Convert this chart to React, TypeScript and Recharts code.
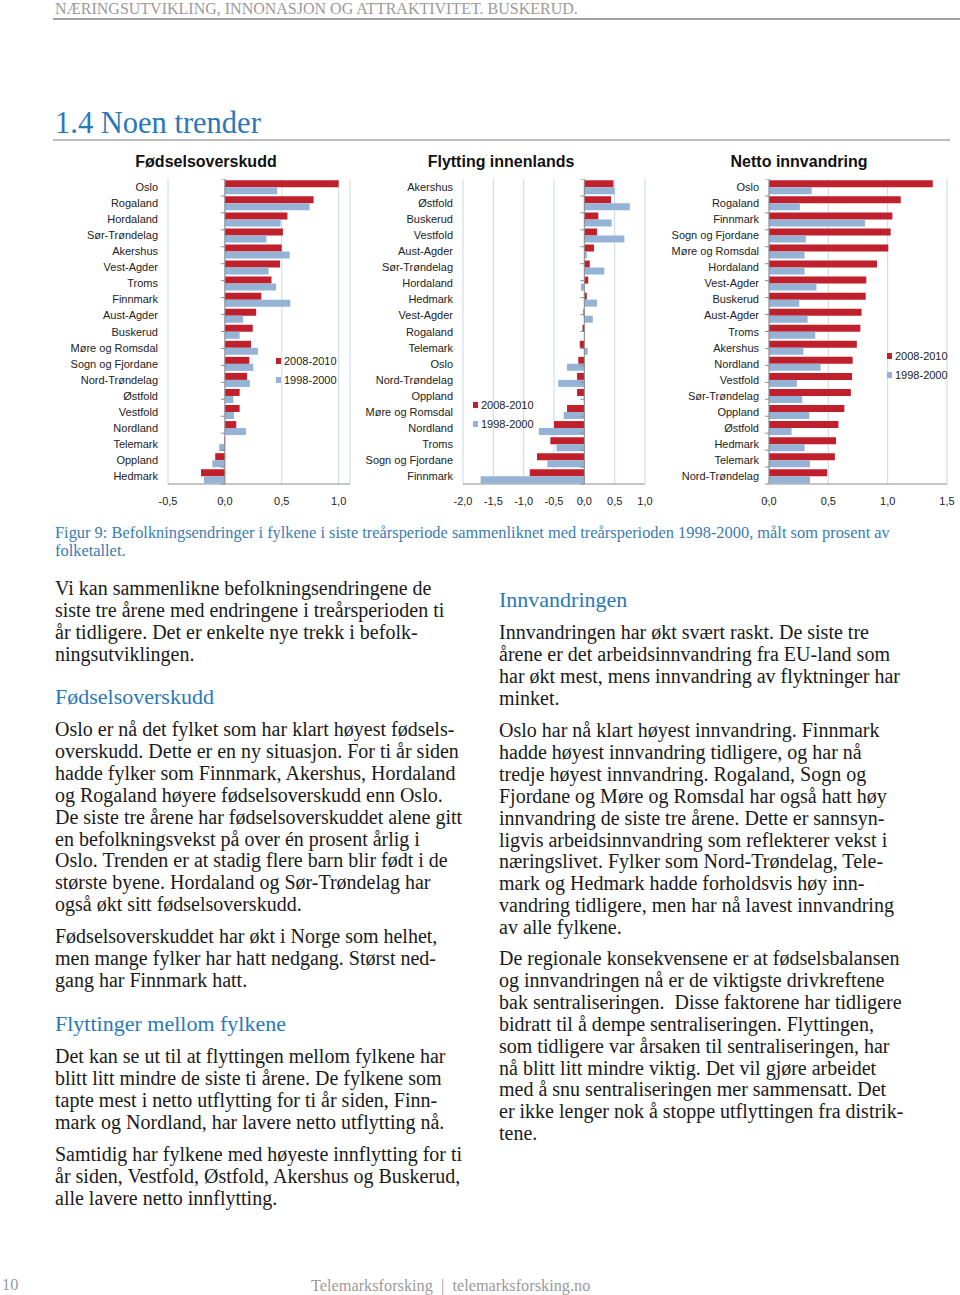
import React from 'react';
import { BarChart, Bar, XAxis, YAxis, CartesianGrid, ReferenceLine } from 'recharts';

const RED = '#c0202c';
const BLUE = '#95b3d7';
const GRID = '#c9d8ec';
const AXIS = '#8c8c8c';
const HEAD_BLUE = '#2a78b8';

const seriesNames = ['2008-2010', '1998-2000'];

// Fødselsoverskudd
const birthCounties = ['Oslo', 'Rogaland', 'Hordaland', 'Sør-Trøndelag', 'Akershus', 'Vest-Agder', 'Troms', 'Finnmark', 'Aust-Agder', 'Buskerud', 'Møre og Romsdal', 'Sogn og Fjordane', 'Nord-Trøndelag', 'Østfold', 'Vestfold', 'Nordland', 'Telemark', 'Oppland', 'Hedmark'];
const birthNew = [1.0, 0.78, 0.55, 0.51, 0.5, 0.485, 0.41, 0.32, 0.275, 0.245, 0.23, 0.215, 0.195, 0.13, 0.13, 0.1, -0.005, -0.085, -0.21];
const birthOld = [0.46, 0.745, 0.49, 0.365, 0.57, 0.385, 0.45, 0.575, 0.16, 0.13, 0.29, 0.25, 0.22, 0.075, 0.08, 0.185, -0.05, -0.11, -0.185];
const birthTicks = [-0.5, 0, 0.5, 1.0];

// Flytting innenlands
const moveCounties = ['Akershus', 'Østfold', 'Buskerud', 'Vestfold', 'Aust-Agder', 'Sør-Trøndelag', 'Hordaland', 'Hedmark', 'Vest-Agder', 'Rogaland', 'Telemark', 'Oslo', 'Nord-Trøndelag', 'Oppland', 'Møre og Romsdal', 'Nordland', 'Troms', 'Sogn og Fjordane', 'Finnmark'];
const moveNew = [0.48, 0.44, 0.23, 0.21, 0.16, 0.09, 0.065, 0.04, -0.015, -0.03, -0.075, -0.1, -0.12, -0.12, -0.285, -0.5, -0.56, -0.78, -0.9];
const moveOld = [0.5, 0.75, 0.45, 0.66, 0.04, 0.33, -0.055, 0.21, 0.14, 0.005, 0.055, -0.285, -0.43, -0.01, -0.34, -0.75, -0.46, -0.61, -1.71];
const moveTicks = [-2.0, -1.5, -1.0, -0.5, 0, 0.5, 1.0];

// Netto innvandring
const immCounties = ['Oslo', 'Rogaland', 'Finnmark', 'Sogn og Fjordane', 'Møre og Romsdal', 'Hordaland', 'Vest-Agder', 'Buskerud', 'Aust-Agder', 'Troms', 'Akershus', 'Nordland', 'Vestfold', 'Sør-Trøndelag', 'Oppland', 'Østfold', 'Hedmark', 'Telemark', 'Nord-Trøndelag'];
const immNew = [1.38, 1.11, 1.04, 1.025, 1.005, 0.91, 0.82, 0.815, 0.78, 0.77, 0.74, 0.705, 0.7, 0.69, 0.635, 0.585, 0.565, 0.555, 0.49];
const immOld = [0.36, 0.26, 0.81, 0.31, 0.3, 0.3, 0.4, 0.255, 0.325, 0.39, 0.29, 0.435, 0.235, 0.28, 0.34, 0.19, 0.3, 0.345, 0.345];
const immTicks = [0, 0.5, 1.0, 1.5];

const build = (names: string[], a: number[], b: number[]) =>
  names.map((name, i) => ({ name, a: a[i], b: b[i] }));

const fmt = (v: number) => v.toFixed(1).replace('.', ',');

const SANS = '"Liberation Sans", Arial, sans-serif';
const SERIF = '"Liberation Serif", "Times New Roman", serif';

type PanelProps = {
  title: string;
  titleCenter: number;
  data: { name: string; a: number; b: number }[];
  domain: [number, number];
  ticks: number[];
  plotLeft: number;
  plotWidth: number;
  legendLeft: number;
  legendTop: number;
};

const YW = 113;
const PLOT_TOP = 179;
const PLOT_H = 305;
const XH = 28;
const RM = 14;
const TICK_PX = 4;

function YTick(props: any) {
  const { x, y, payload } = props;
  return (
    <text x={x} y={y} dy={4} textAnchor="end" fontSize={11} fill="#222" fontFamily={SANS}>
      {payload.value}
    </text>
  );
}

function LegendBox({ left, top }: { left: number; top: number }) {
  return (
    <div style={{ position: 'absolute', left, top, fontFamily: SANS, fontSize: 11, color: '#222', lineHeight: '18.5px' }}>
      {seriesNames.map((n, i) => (
        <div key={n} style={{ display: 'flex', alignItems: 'center', whiteSpace: 'nowrap' }}>
          <span style={{ display: 'inline-block', width: 5, height: 6, background: i === 0 ? RED : BLUE, marginRight: 3 }} />
          {n}
        </div>
      ))}
    </div>
  );
}

function Panel(p: PanelProps) {
  const width = YW + p.plotWidth + RM;
  const left = p.plotLeft - YW;
  const height = PLOT_H + XH;
  const n = p.data.length;
  const bounds = Array.from({ length: n + 1 }, (_, i) => i);
  const tickLen = (TICK_PX * (p.domain[1] - p.domain[0])) / p.plotWidth;
  return (
    <>
      <div style={{ position: 'absolute', left: p.titleCenter - 120, width: 240, top: 153, textAlign: 'center', fontFamily: SANS, fontWeight: 'bold', fontSize: 16, color: '#111' }}>
        {p.title}
      </div>
      <div style={{ position: 'absolute', left, top: PLOT_TOP, width, height }}>
        <BarChart width={width} height={height} data={p.data} layout="vertical" margin={{ top: 0, right: RM, bottom: 0, left: 0 }} barCategoryGap="8%" barGap={0}>
          <CartesianGrid horizontal={false} stroke={GRID} />
          <XAxis type="number" domain={p.domain} ticks={p.ticks} tickFormatter={fmt} allowDataOverflow axisLine={{ stroke: AXIS }} tickLine={false} tickSize={4} tickMargin={9} height={XH} tick={{ fontSize: 11, fill: '#222', fontFamily: SANS }} />
          <YAxis type="category" dataKey="name" width={YW} interval={0} axisLine={false} tickLine={false} tickSize={0} tickMargin={10} tick={<YTick />} />
          <YAxis yAxisId="bounds" type="number" domain={[0, n]} hide />
          <ReferenceLine x={0} stroke={AXIS} />
          {bounds.map((b) => (
            <ReferenceLine key={b} yAxisId="bounds" ifOverflow="visible" stroke={AXIS} segment={[{ x: -tickLen, y: b }, { x: 0, y: b }]} />
          ))}
          <Bar dataKey="a" name={seriesNames[0]} fill={RED} isAnimationActive={false} />
          <Bar dataKey="b" name={seriesNames[1]} fill={BLUE} isAnimationActive={false} />
        </BarChart>
      </div>
      <LegendBox left={p.legendLeft} top={p.legendTop} />
    </>
  );
}

const captionLines = [
  'Figur 9: Befolkningsendringer i fylkene i siste treårsperiode sammenliknet med treårsperioden 1998-2000, målt som prosent av',
  'folketallet.',
];

const leftP1 = ['Vi kan sammenlikne befolkningsendringene de', 'siste tre årene med endringene i treårsperioden ti', 'år tidligere. Det er enkelte nye trekk i befolk-', 'ningsutviklingen.'];
const leftP2 = ['Oslo er nå det fylket som har klart høyest fødsels-', 'overskudd. Dette er en ny situasjon. For ti år siden', 'hadde fylker som Finnmark, Akershus, Hordaland', 'og Rogaland høyere fødselsoverskudd enn Oslo.', 'De siste tre årene har fødselsoverskuddet alene gitt', 'en befolkningsvekst på over én prosent årlig i', 'Oslo. Trenden er at stadig flere barn blir født i de', 'største byene. Hordaland og Sør-Trøndelag har', 'også økt sitt fødselsoverskudd.'];
const leftP3 = ['Fødselsoverskuddet har økt i Norge som helhet,', 'men mange fylker har hatt nedgang. Størst ned-', 'gang har Finnmark hatt.'];
const leftP4 = ['Det kan se ut til at flyttingen mellom fylkene har', 'blitt litt mindre de siste ti årene. De fylkene som', 'tapte mest i netto utflytting for ti år siden, Finn-', 'mark og Nordland, har lavere netto utflytting nå.'];
const leftP5 = ['Samtidig har fylkene med høyeste innflytting for ti', 'år siden, Vestfold, Østfold, Akershus og Buskerud,', 'alle lavere netto innflytting.'];
const rightP1 = ['Innvandringen har økt svært raskt. De siste tre', 'årene er det arbeidsinnvandring fra EU-land som', 'har økt mest, mens innvandring av flyktninger har', 'minket.'];
const rightP2 = ['Oslo har nå klart høyest innvandring. Finnmark', 'hadde høyest innvandring tidligere, og har nå', 'tredje høyest innvandring. Rogaland, Sogn og', 'Fjordane og Møre og Romsdal har også hatt høy', 'innvandring de siste tre årene. Dette er sannsyn-', 'ligvis arbeidsinnvandring som reflekterer vekst i', 'næringslivet. Fylker som Nord-Trøndelag, Tele-', 'mark og Hedmark hadde forholdsvis høy inn-', 'vandring tidligere, men har nå lavest innvandring', 'av alle fylkene.'];
const rightP3 = ['De regionale konsekvensene er at fødselsbalansen', 'og innvandringen nå er de viktigste drivkreftene', 'bak sentraliseringen.  Disse faktorene har tidligere', 'bidratt til å dempe sentraliseringen. Flyttingen,', 'som tidligere var årsaken til sentraliseringen, har', 'nå blitt litt mindre viktig. Det vil gjøre arbeidet', 'med å snu sentraliseringen mer sammensatt. Det', 'er ikke lenger nok å stoppe utflyttingen fra distrik-', 'tene.'];

const LH = 21.9;
const BODY = 20;

function Para({ lines, left, centerY, size = BODY, color = '#1a1a1a', lh = LH }: { lines: string[]; left: number; centerY: number; size?: number; color?: string; lh?: number }) {
  return (
    <div style={{ position: 'absolute', left, top: centerY - lh / 2, fontFamily: SERIF, fontSize: size, lineHeight: `${lh}px`, color, whiteSpace: 'pre' }}>
      {lines.map((l, i) => (
        <div key={i}>{l}</div>
      ))}
    </div>
  );
}

export default function App() {
  return (
    <div style={{ position: 'absolute', left: 0, top: 0, width: 960, height: 1295, background: '#fff', overflow: 'hidden' }}>
      <Para lines={['NÆRINGSUTVIKLING, INNONASJON OG ATTRAKTIVITET. BUSKERUD.']} left={55} centerY={9} size={16} color="#9a9a9a" lh={18} />
      <div style={{ position: 'absolute', left: 53, top: 18, width: 907, height: 2, background: '#a0a0a0' }} />
      <Para lines={['1.4 Noen trender']} left={55} centerY={123} size={30.5} color={HEAD_BLUE} lh={34} />
      <div style={{ position: 'absolute', left: 53, top: 139, width: 897, height: 1.5, background: '#bdbdbd' }} />

      <Panel title="Fødselsoverskudd" titleCenter={206} data={build(birthCounties, birthNew, birthOld)} domain={[-0.5, 1.1]} ticks={birthTicks} plotLeft={168} plotWidth={182} legendLeft={276} legendTop={352} />
      <Panel title="Flytting innenlands" titleCenter={501} data={build(moveCounties, moveNew, moveOld)} domain={[-2, 1]} ticks={moveTicks} plotLeft={463} plotWidth={182} legendLeft={473} legendTop={396} />
      <Panel title="Netto innvandring" titleCenter={799} data={build(immCounties, immNew, immOld)} domain={[0, 1.5]} ticks={immTicks} plotLeft={769} plotWidth={178} legendLeft={887} legendTop={347} />

      <Para lines={captionLines} left={55} centerY={533} size={16.4} color="#3a7bb3" lh={18.5} />

      <Para lines={leftP1} left={55} centerY={589} />
      <Para lines={['Fødselsoverskudd']} left={55} centerY={697} size={22} color={HEAD_BLUE} lh={26} />
      <Para lines={leftP2} left={55} centerY={730} />
      <Para lines={leftP3} left={55} centerY={937} />
      <Para lines={['Flyttinger mellom fylkene']} left={55} centerY={1024} size={22} color={HEAD_BLUE} lh={26} />
      <Para lines={leftP4} left={55} centerY={1057} />
      <Para lines={leftP5} left={55} centerY={1155} />

      <Para lines={['Innvandringen']} left={499} centerY={600} size={22} color={HEAD_BLUE} lh={26} />
      <Para lines={rightP1} left={499} centerY={633} />
      <Para lines={rightP2} left={499} centerY={731} />
      <Para lines={rightP3} left={499} centerY={959} />

      <Para lines={['10']} left={2} centerY={1285} size={16.3} color="#9a9a9a" lh={20} />
      <Para lines={['Telemarksforsking  |  telemarksforsking.no']} left={311} centerY={1286} size={16.3} color="#9a9a9a" lh={20} />
    </div>
  );
}
